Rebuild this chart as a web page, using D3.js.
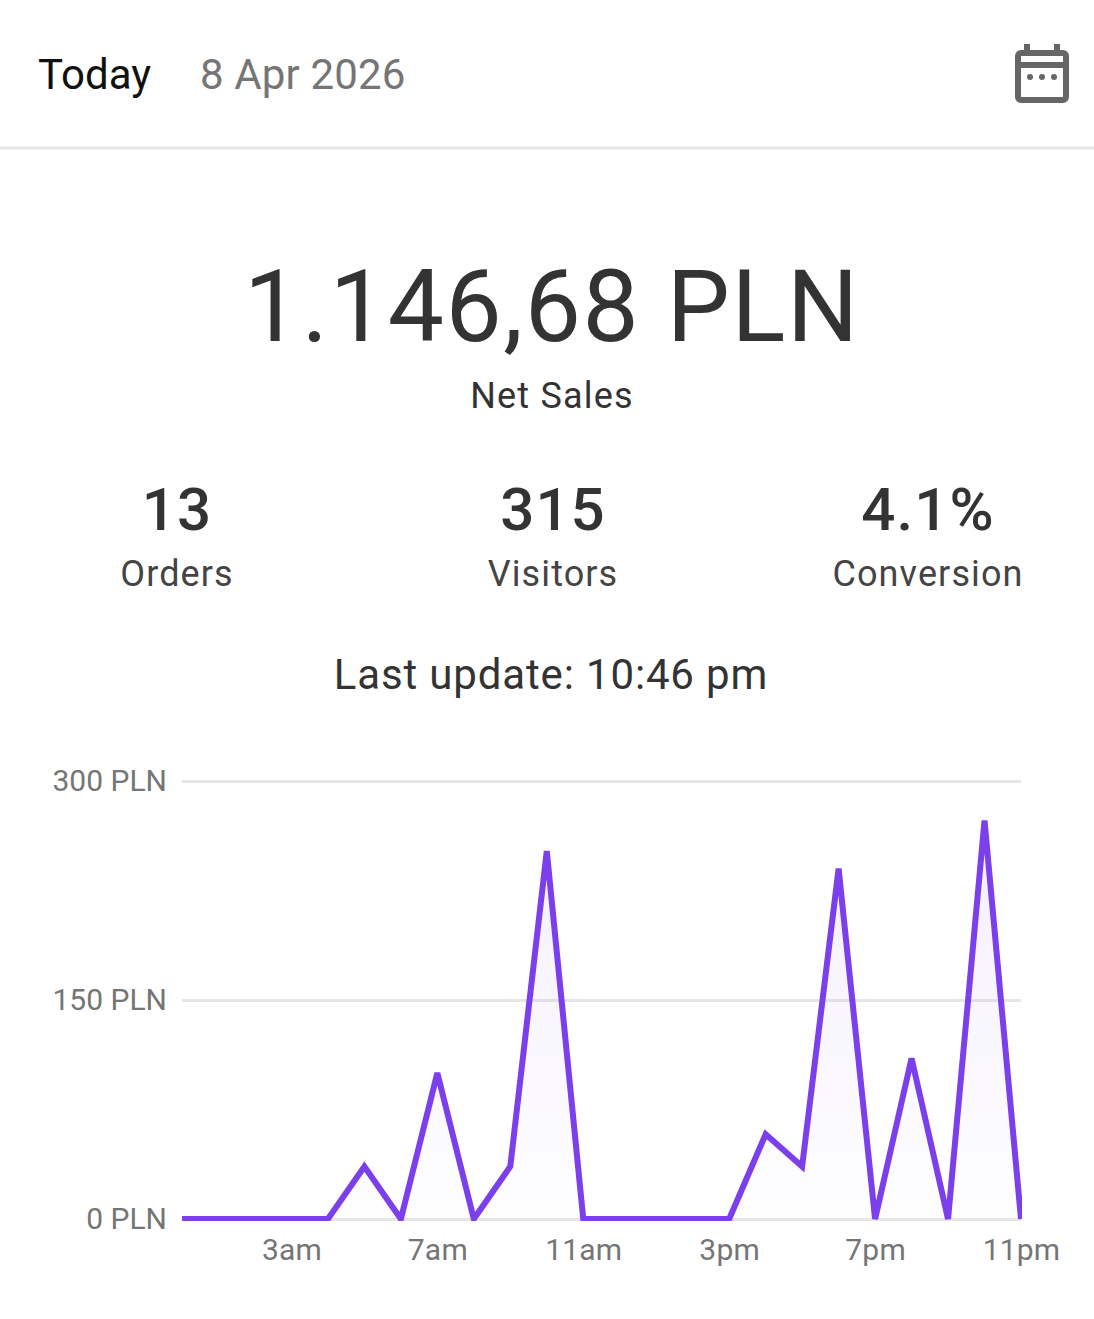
<!DOCTYPE html>
<html>
<head>
<meta charset="utf-8">
<script src="https://cdn.jsdelivr.net/npm/d3@7"></script>
<style>
  html, body { margin: 0; padding: 0; background: #fff; }
  svg { display: block; font-family: Roboto, sans-serif; }
</style>
</head>
<body>
<div id="chart"></div>
<script>
const hours = d3.range(0, 24)
const sales = [0, 0, 0, 0, 0, 36, 0, 100, 0, 36, 252, 0, 0, 0, 0, 0, 58, 36, 240, 0, 110, 0, 273, 0]
const xTickHours = [3, 7, 11, 15, 19, 23]
const xTickLabels = ['3am', '7am', '11am', '3pm', '7pm', '11pm']
const yTicks = [0, 150, 300]
const stats = [
  { value: '13', label: 'Orders', x: 177 },
  { value: '315', label: 'Visitors', x: 553 },
  { value: '4.1%', label: 'Conversion', x: 928 }
]

const width = 1094
const height = 1319

const svg = d3.select('#chart')
  .append('svg')
  .attr('width', width)
  .attr('height', height)

function addText (x, y, str, size, color, anchor, spacing, weight) {
  return svg.append('text')
    .attr('x', x)
    .attr('y', y)
    .attr('text-anchor', anchor || 'start')
    .attr('font-size', size)
    .attr('fill', color)
    .attr('letter-spacing', spacing || 0)
    .attr('font-weight', weight || 400)
    .text(str)
}

// header
addText(38, 89, 'Today', 42, '#111', 'start', 0)
addText(200, 89, '8 Apr 2026', 42, '#757575', 'start', 0.15)
svg.append('rect').attr('x', 0).attr('y', 146.5).attr('width', width).attr('height', 3).attr('fill', '#e6e6e6')

// calendar icon
const cal = svg.append('g').attr('fill', '#666')
cal.append('path')
  .attr('fill-rule', 'evenodd')
  .attr('d', 'M1021 50h42a6 6 0 0 1 6 6v41a6 6 0 0 1-6 6h-42a6 6 0 0 1-6-6v-41a6 6 0 0 1 6-6z M1021 56v6h42v-6z M1021 68v29h42v-29z')
cal.append('rect').attr('x', 1024).attr('y', 44).attr('width', 6).attr('height', 8)
cal.append('rect').attr('x', 1054).attr('y', 44).attr('width', 6).attr('height', 8)
;[1030, 1042, 1054].forEach(cx => cal.append('circle').attr('cx', cx).attr('cy', 77).attr('r', 3))

// totals
addText(552, 341, '1.146,68 PLN', 100, '#333', 'middle', 1.65)
addText(552, 408, 'Net Sales', 36, '#333', 'middle', 1.2)

stats.forEach(s => {
  addText(s.x, 530, s.value, 60, '#333', 'middle', 1.1, 500)
  addText(s.x, 586, s.label, 36, '#444', 'middle', 1.1)
})

addText(551, 689, 'Last update: 10:46 pm', 42, '#333', 'middle', 0.85)

// chart
const x = d3.scaleLinear().domain([0, 23]).range([182, 1021])
const y = d3.scaleLinear().domain([0, 300]).range([1219, 781])

const yAxis = d3.axisLeft(y)
  .tickValues(yTicks)
  .tickSize(-(x.range()[1] - x.range()[0]))
  .tickPadding(15)
  .tickFormat(d => `${d} PLN`)

const yG = svg.append('g')
  .attr('transform', `translate(${x.range()[0]},0)`)
  .call(yAxis)
yG.select('.domain').remove()
yG.selectAll('line').attr('stroke', '#e6e6e6').attr('stroke-width', 3)
yG.selectAll('text')
  .attr('font-family', 'Roboto')
  .attr('font-size', 30)
  .attr('fill', '#757575')

const xAxis = d3.axisBottom(x)
  .tickValues(xTickHours)
  .tickSize(0)
  .tickPadding(20)
  .tickFormat((d, i) => xTickLabels[i])

const xG = svg.append('g')
  .attr('transform', `translate(0,${y(0)})`)
  .call(xAxis)
xG.select('.domain').remove()
xG.selectAll('text')
  .attr('font-family', 'Roboto')
  .attr('font-size', 30)
  .attr('letter-spacing', 0.2)
  .attr('fill', '#757575')

const grad = svg.append('defs').append('linearGradient')
  .attr('id', 'salesFill')
  .attr('x1', 0).attr('x2', 0).attr('y1', 0).attr('y2', 1)
grad.append('stop').attr('offset', '0%').attr('stop-color', '#7c3fec').attr('stop-opacity', 0.08)
grad.append('stop').attr('offset', '100%').attr('stop-color', '#7c3fec').attr('stop-opacity', 0.01)

const area = d3.area()
  .x((d, i) => x(hours[i]))
  .y0(y(0))
  .y1(d => y(d))

const line = d3.line()
  .x((d, i) => x(hours[i]))
  .y(d => y(d))

const clip = svg.append('clipPath').attr('id', 'plotClip')
clip.append('rect')
  .attr('x', x.range()[0])
  .attr('y', y(300))
  .attr('width', x.range()[1] - x.range()[0] + 1)
  .attr('height', y(0) - y(300) + 2)

svg.append('path')
  .datum(sales)
  .attr('d', area)
  .attr('fill', 'url(#salesFill)')

svg.append('path')
  .datum(sales)
  .attr('d', line)
  .attr('clip-path', 'url(#plotClip)')
  .attr('fill', 'none')
  .attr('stroke', '#7c3fec')
  .attr('stroke-width', 6)
</script>
</body>
</html>
